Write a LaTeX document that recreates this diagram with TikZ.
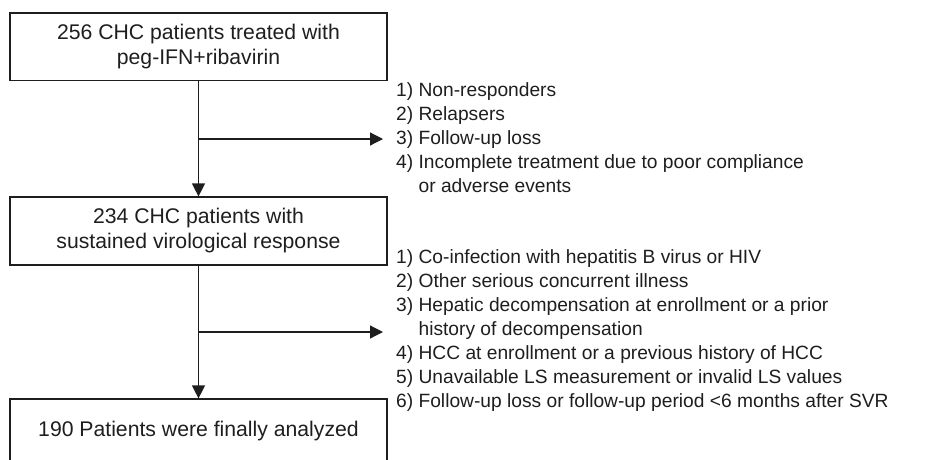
\documentclass[tikz,border=0pt]{standalone}
\usepackage{fontspec}
\setmainfont{Liberation Sans}
\usetikzlibrary{arrows.meta}
\definecolor{ink}{HTML}{1E1E1E}
\tikzset{
  boxstyle/.style={draw=ink, line width=1.2pt, minimum width=377pt, inner sep=0pt, align=center, text=ink, font=\fontsize{21.2}{25}\selectfont},
  liststyle/.style={anchor=west, inner sep=0pt, text=ink, font=\fontsize{19.2}{24}\selectfont},
  flow/.style={draw=ink, line width=1.2pt},
  arr/.style={flow, -{Triangle[length=13pt,width=13pt]}}
}
\begin{document}
\begin{tikzpicture}[x=1pt,y=1pt]
\useasboundingbox (0,0) rectangle (947,-459);
\clip (0,0) rectangle (947,-459);
\node[boxstyle, minimum height=67.5pt] (b1) at (198.5,-46.75) {256 CHC patients treated with\\peg-IFN+ribavirin};
\node[boxstyle, minimum height=68pt] (b2) at (198.5,-231) {234 CHC patients with\\sustained virological response};
\node[boxstyle, minimum height=64pt] (b3) at (198.5,-431) {190 Patients were finally analyzed};
\coordinate (j1) at (198.5,-139);
\coordinate (j2) at (198.5,-332);
\node[liststyle] (l1) at (396,-139.5) {\begin{tabular}{@{}l@{ }l@{}}
1) & Non-responders\\
2) & Relapsers\\
3) & Follow-up loss\\
4) & Incomplete treatment due to poor compliance\\
   & or adverse events
\end{tabular}};
\node[liststyle] (l2) at (396,-330.5) {\begin{tabular}{@{}l@{ }l@{}}
1) & Co-infection with hepatitis B virus or HIV\\
2) & Other serious concurrent illness\\
3) & Hepatic decompensation at enrollment or a prior\\
   & history of decompensation\\
4) & HCC at enrollment or a previous history of HCC\\
5) & Unavailable LS measurement or invalid LS values\\
6) & Follow-up loss or follow-up period <6 months after SVR
\end{tabular}};
\draw[arr] (b1.south) -- (b2.north);
\draw[arr] (j1) -- (383,-139) coordinate (e1);
\draw[arr] (b2.south) -- (b3.north);
\draw[arr] (j2) -- (383,-332) coordinate (e2);
\end{tikzpicture}
\end{document}
